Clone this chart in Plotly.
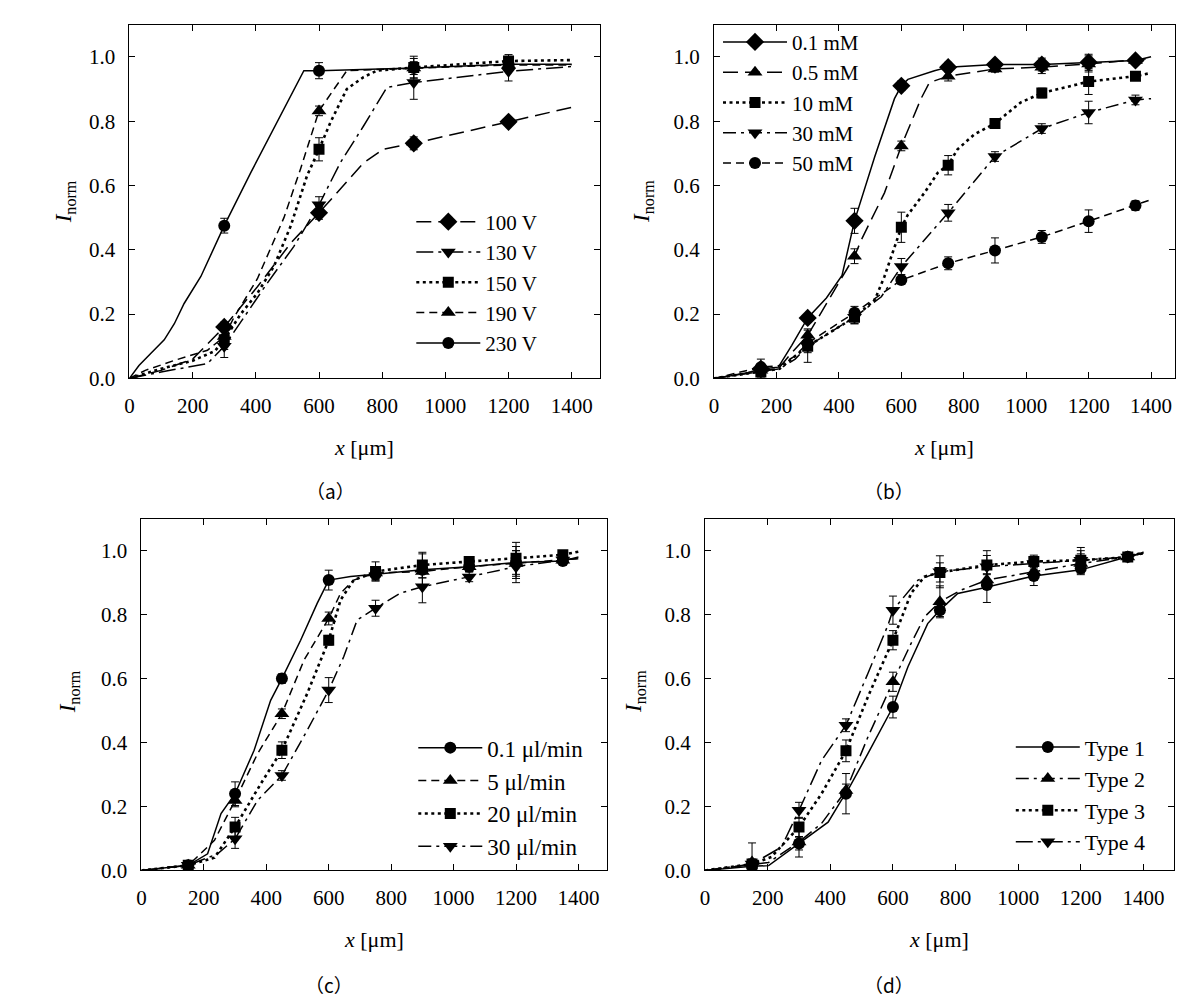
import plotly.graph_objects as go

SERIF = "Liberation Serif"
CJK = "Noto Sans CJK SC"

# ---------------- Panel (a): applied voltage ----------------
A_MX = [300, 600, 900, 1200]
A_NAMES = ["100 V", "130 V", "150 V", "190 V", "230 V"]

A_100_LX = [0, 100, 200, 300, 405, 510, 600, 667, 741, 804, 900, 1200, 1400]
A_100_LY = [0, 0.025, 0.06, 0.16, 0.285, 0.42, 0.515, 0.588, 0.67, 0.713, 0.731, 0.798, 0.843]
A_100_MY = [0.16, 0.515, 0.731, 0.798]
A_100_ME = [0.015, 0.02, 0.02, 0.01]

A_130_LX = [0, 100, 247, 300, 436, 520, 600, 667, 741, 815, 900, 1200, 1400]
A_130_LY = [0, 0.02, 0.046, 0.1, 0.296, 0.41, 0.54, 0.67, 0.785, 0.905, 0.92, 0.955, 0.97]
A_130_MY = [0.1, 0.54, 0.92, 0.955]
A_130_ME = [0.035, 0.025, 0.052, 0.03]

A_150_LX = [0, 100, 200, 270, 300, 352, 405, 457, 510, 562, 600, 636, 688, 741, 783, 900, 1200, 1400]
A_150_LY = [0, 0.03, 0.055, 0.085, 0.12, 0.2, 0.265, 0.348, 0.473, 0.63, 0.7125, 0.796, 0.9, 0.937, 0.957, 0.967, 0.987, 0.99]
A_150_MY = [0.12, 0.7125, 0.967, 0.987]
A_150_ME = [0.03, 0.036, 0.035, 0.02]

A_190_LX = [0, 50, 142, 247, 300, 331, 405, 489, 541, 600, 688, 900, 1200, 1400]
A_190_LY = [0, 0.025, 0.056, 0.0875, 0.13, 0.19, 0.31, 0.5, 0.65, 0.832, 0.957, 0.965, 0.975, 0.975]
A_190_MY = [0.13, 0.832, 0.965, 0.975]
A_190_ME = [0.03, 0.015, 0.03, 0.02]

A_230_LX = [0, 30, 68, 110, 142, 173, 226, 300, 384, 489, 552, 600, 900, 1200, 1400]
A_230_LY = [0, 0.04, 0.078, 0.12, 0.17, 0.233, 0.317, 0.475, 0.64, 0.8375, 0.957, 0.957, 0.965, 0.977, 0.977]
A_230_MY = [0.475, 0.957, 0.965, 0.977]
A_230_ME = [0.023, 0.025, 0.02, 0.015]

# ---------------- Panel (b): concentration ----------------
B_MX = [150, 300, 450, 600, 750, 900, 1050, 1200, 1350]
B_NAMES = ["0.1 mM", "0.5 mM", "10 mM", "30 mM", "50 mM"]

B_01_LX = [0, 100, 150, 206, 249, 300, 360, 410, 450, 515, 578, 600, 621, 706, 750, 900, 1050, 1200, 1350, 1400]
B_01_LY = [0, 0.015, 0.03, 0.035, 0.103, 0.188, 0.25, 0.32, 0.49, 0.69, 0.87, 0.91, 0.93, 0.957, 0.968, 0.976, 0.976, 0.983, 0.989, 1.0]
B_01_MY = [0.03, 0.188, 0.49, 0.91, 0.968, 0.976, 0.976, 0.983, 0.989]
B_01_ME = [0.015, 0.01, 0.039, 0.015, 0.015, 0.01, 0.02, 0.025, 0.01]

B_05_LX = [0, 150, 206, 249, 300, 403, 450, 472, 546, 600, 663, 690, 750, 900, 1050, 1200, 1350, 1400]
B_05_LY = [0, 0.025, 0.03, 0.08, 0.134, 0.3, 0.38, 0.431, 0.577, 0.723, 0.87, 0.92, 0.94, 0.9625, 0.968, 0.978, 0.989, 0.995]
B_05_MY = [0.025, 0.134, 0.38, 0.723, 0.94, 0.9625, 0.968, 0.978, 0.989]
B_05_ME = [0.015, 0.02, 0.023, 0.015, 0.015, 0.01, 0.02, 0.025, 0.01]

B_10_LX = [0, 150, 210, 260, 300, 450, 515, 546, 578, 600, 621, 674, 717, 750, 780, 834, 900, 982, 1050, 1200, 1350, 1400]
B_10_LY = [0, 0.02, 0.03, 0.07, 0.1, 0.19, 0.244, 0.317, 0.41, 0.47, 0.509, 0.577, 0.64, 0.663, 0.7125, 0.759, 0.793, 0.858, 0.8875, 0.923, 0.94, 0.95]
B_10_MY = [0.02, 0.1, 0.19, 0.47, 0.663, 0.793, 0.8875, 0.923, 0.94]
B_10_ME = [0.015, 0.05, 0.02, 0.047, 0.03, 0.01, 0.015, 0.04, 0.01]

B_30_LX = [0, 150, 210, 260, 300, 450, 536, 600, 674, 750, 834, 900, 1050, 1200, 1350, 1400]
B_30_LY = [0, 0.02, 0.03, 0.06, 0.1, 0.19, 0.254, 0.348, 0.431, 0.515, 0.613, 0.69, 0.777, 0.827, 0.866, 0.87]
B_30_MY = [0.02, 0.1, 0.19, 0.348, 0.515, 0.69, 0.777, 0.827, 0.866]
B_30_ME = [0.015, 0.02, 0.02, 0.025, 0.026, 0.015, 0.015, 0.035, 0.015]

B_50_LX = [0, 150, 210, 260, 300, 450, 600, 750, 900, 1050, 1200, 1350, 1400]
B_50_LY = [0, 0.035, 0.04, 0.07, 0.11, 0.204, 0.306, 0.358, 0.398, 0.44, 0.489, 0.5375, 0.556]
B_50_MY = [0.035, 0.11, 0.204, 0.306, 0.358, 0.398, 0.44, 0.489, 0.5375]
B_50_ME = [0.025, 0.02, 0.02, 0.01, 0.02, 0.039, 0.02, 0.035, 0.015]

# ---------------- Panel (c): flow rate ----------------
C_MX = [150, 300, 450, 600, 750, 900, 1050, 1200, 1350]
C_NAMES = ["0.1 μl/min", "5 μl/min", "20 μl/min", "30 μl/min"]

C_01_LX = [0, 150, 212, 255, 300, 361, 414, 450, 510, 563, 600, 670, 750, 900, 1050, 1200, 1350, 1400]
C_01_LY = [0, 0.016, 0.052, 0.178, 0.24, 0.376, 0.532, 0.6, 0.72, 0.835, 0.908, 0.919, 0.926, 0.94, 0.95, 0.963, 0.968, 0.98]
C_01_MY = [0.016, 0.24, 0.6, 0.908, 0.926, 0.94, 0.95, 0.963, 0.968]
C_01_ME = [0.01, 0.037, 0.015, 0.031, 0.02, 0.05, 0.015, 0.05, 0.01]

C_5_LX = [0, 150, 234, 300, 372, 450, 521, 600, 638, 680, 750, 900, 1050, 1200, 1350, 1400]
C_5_LY = [0, 0.016, 0.094, 0.219, 0.365, 0.49, 0.658, 0.788, 0.867, 0.908, 0.93, 0.935, 0.95, 0.96, 0.97, 0.975]
C_5_MY = [0.016, 0.219, 0.49, 0.788, 0.93, 0.935, 0.95, 0.96, 0.97]
C_5_ME = [0.01, 0.02, 0.015, 0.02, 0.02, 0.02, 0.015, 0.04, 0.01]

C_20_LX = [0, 150, 234, 300, 383, 450, 531, 600, 638, 680, 750, 900, 1050, 1200, 1350, 1400]
C_20_LY = [0, 0.016, 0.04, 0.136, 0.272, 0.376, 0.553, 0.72, 0.846, 0.908, 0.935, 0.955, 0.966, 0.976, 0.987, 0.997]
C_20_MY = [0.016, 0.136, 0.376, 0.72, 0.935, 0.955, 0.966, 0.976, 0.987]
C_20_ME = [0.01, 0.03, 0.026, 0.015, 0.03, 0.04, 0.01, 0.05, 0.01]

C_30_LX = [0, 150, 244, 300, 372, 450, 531, 600, 648, 691, 750, 829, 900, 1050, 1200, 1350, 1400]
C_30_LY = [0, 0.016, 0.052, 0.099, 0.219, 0.297, 0.438, 0.564, 0.668, 0.783, 0.82, 0.867, 0.887, 0.918, 0.95, 0.971, 0.976]
C_30_MY = [0.016, 0.099, 0.297, 0.564, 0.82, 0.887, 0.918, 0.95, 0.971]
C_30_ME = [0.01, 0.03, 0.015, 0.039, 0.025, 0.05, 0.015, 0.05, 0.01]

# ---------------- Panel (d): channel type ----------------
D_MX = [150, 300, 450, 600, 750, 900, 1050, 1200, 1350]
D_NAMES = ["Type 1", "Type 2", "Type 3", "Type 4"]

D_1_LX = [0, 150, 203, 300, 393, 435, 450, 520, 600, 648, 711, 750, 807, 881, 1050, 1200, 1350, 1400]
D_1_LY = [0, 0.013, 0.015, 0.084, 0.151, 0.219, 0.24, 0.365, 0.511, 0.637, 0.772, 0.814, 0.866, 0.882, 0.921, 0.94, 0.981, 0.992]
D_1_MY = [0.013, 0.084, 0.24, 0.511, 0.814, 0.893, 0.921, 0.945, 0.981]
D_1_ME = [0.01, 0.02, 0.063, 0.034, 0.02, 0.055, 0.03, 0.02, 0.01]

D_2_LX = [0, 150, 203, 300, 372, 450, 520, 600, 658, 701, 750, 818, 900, 1050, 1200, 1350, 1400]
D_2_LY = [0, 0.02, 0.025, 0.089, 0.147, 0.25, 0.417, 0.59, 0.71, 0.793, 0.84, 0.877, 0.908, 0.934, 0.96, 0.98, 0.99]
D_2_MY = [0.026, 0.089, 0.25, 0.59, 0.84, 0.908, 0.934, 0.96, 0.98]
D_2_ME = [0.06, 0.047, 0.02, 0.03, 0.05, 0.02, 0.015, 0.03, 0.01]

D_3_LX = [0, 150, 212, 300, 372, 450, 520, 600, 658, 701, 750, 900, 1050, 1200, 1350, 1400]
D_3_LY = [0, 0.02, 0.042, 0.136, 0.24, 0.374, 0.543, 0.72, 0.867, 0.919, 0.932, 0.955, 0.966, 0.97, 0.98, 0.995]
D_3_MY = [0.02, 0.136, 0.374, 0.72, 0.932, 0.955, 0.966, 0.97, 0.98]
D_3_ME = [0.015, 0.03, 0.034, 0.03, 0.03, 0.03, 0.02, 0.04, 0.01]

D_4_LX = [0, 150, 244, 300, 372, 450, 520, 584, 600, 680, 750, 900, 1050, 1200, 1350, 1400]
D_4_LY = [0, 0.02, 0.073, 0.188, 0.344, 0.454, 0.616, 0.767, 0.814, 0.908, 0.934, 0.95, 0.96, 0.97, 0.98, 0.995]
D_4_MY = [0.02, 0.188, 0.454, 0.814, 0.934, 0.95, 0.96, 0.97, 0.98]
D_4_ME = [0.015, 0.025, 0.02, 0.044, 0.05, 0.05, 0.02, 0.03, 0.01]

X_TICKS = [0, 200, 400, 600, 800, 1000, 1200, 1400]
Y_TICKS = [0.0, 0.2, 0.4, 0.6, 0.8, 1.0]

# ---------------- styles ----------------
SOLID = dict(dash="solid", width=1.5)
DOT = dict(dash="3px,3.5px", width=2.6)
DASH = dict(dash="8px,5px", width=1.5)
LDASH = dict(dash="15px,7px", width=1.5)
DASHDOT = dict(dash="13px,5px,3px,5px", width=1.5)
LDASHDOT = dict(dash="17px,5px,3px,5px", width=1.5)

fig = go.Figure()


def add_series(axn, legend, name, lx, ly, mx, my, me, line, symbol, msize):
    xa = "x" if axn == 1 else "x%d" % axn
    ya = "y" if axn == 1 else "y%d" % axn
    fig.add_trace(go.Scatter(x=lx, y=ly, mode="lines", xaxis=xa, yaxis=ya,
                             line=dict(color="black", **line), showlegend=False,
                             hoverinfo="skip"))
    fig.add_trace(go.Scatter(x=mx, y=my, mode="markers", xaxis=xa, yaxis=ya,
                             marker=dict(symbol=symbol, size=msize, color="black",
                                         line=dict(width=0)),
                             error_y=dict(type="data", array=me, color="black",
                                          thickness=1, width=4),
                             showlegend=False))
    fig.add_trace(go.Scatter(x=[None], y=[None], mode="lines+markers", name=name,
                             xaxis=xa, yaxis=ya, legend=legend,
                             line=dict(color="black", **line),
                             marker=dict(symbol=symbol, size=msize, color="black",
                                         line=dict(width=0))))


# panel a
add_series(1, "legend", A_NAMES[0], A_100_LX, A_100_LY, A_MX, A_100_MY, A_100_ME, LDASH, "diamond", 14)
add_series(1, "legend", A_NAMES[1], A_130_LX, A_130_LY, A_MX, A_130_MY, A_130_ME, LDASHDOT, "triangle-down", 13)
add_series(1, "legend", A_NAMES[2], A_150_LX, A_150_LY, A_MX, A_150_MY, A_150_ME, DOT, "square", 11)
add_series(1, "legend", A_NAMES[3], A_190_LX, A_190_LY, A_MX, A_190_MY, A_190_ME, DASH, "triangle-up", 13)
add_series(1, "legend", A_NAMES[4], A_230_LX, A_230_LY, A_MX, A_230_MY, A_230_ME, SOLID, "circle", 12)
# panel b
add_series(2, "legend2", B_NAMES[0], B_01_LX, B_01_LY, B_MX, B_01_MY, B_01_ME, SOLID, "diamond", 14)
add_series(2, "legend2", B_NAMES[1], B_05_LX, B_05_LY, B_MX, B_05_MY, B_05_ME, LDASH, "triangle-up", 13)
add_series(2, "legend2", B_NAMES[2], B_10_LX, B_10_LY, B_MX, B_10_MY, B_10_ME, DOT, "square", 11)
add_series(2, "legend2", B_NAMES[3], B_30_LX, B_30_LY, B_MX, B_30_MY, B_30_ME, DASHDOT, "triangle-down", 13)
add_series(2, "legend2", B_NAMES[4], B_50_LX, B_50_LY, B_MX, B_50_MY, B_50_ME, DASH, "circle", 12)
# panel c
add_series(3, "legend3", C_NAMES[0], C_01_LX, C_01_LY, C_MX, C_01_MY, C_01_ME, SOLID, "circle", 12)
add_series(3, "legend3", C_NAMES[1], C_5_LX, C_5_LY, C_MX, C_5_MY, C_5_ME, DASH, "triangle-up", 13)
add_series(3, "legend3", C_NAMES[2], C_20_LX, C_20_LY, C_MX, C_20_MY, C_20_ME, DOT, "square", 11)
add_series(3, "legend3", C_NAMES[3], C_30_LX, C_30_LY, C_MX, C_30_MY, C_30_ME, DASHDOT, "triangle-down", 13)
# panel d
add_series(4, "legend4", D_NAMES[0], D_1_LX, D_1_LY, D_MX, D_1_MY, D_1_ME, SOLID, "circle", 12)
add_series(4, "legend4", D_NAMES[1], D_2_LX, D_2_LY, D_MX, D_2_MY, D_2_ME, DASHDOT, "triangle-up", 13)
add_series(4, "legend4", D_NAMES[2], D_3_LX, D_3_LY, D_MX, D_3_MY, D_3_ME, DOT, "square", 11)
add_series(4, "legend4", D_NAMES[3], D_4_LX, D_4_LY, D_MX, D_4_MY, D_4_ME, LDASHDOT, "triangle-down", 13)

W, H = 1200, 1000


def px(xp):
    return xp / W


def py(yp):
    return 1 - yp / H


# plot-area boxes in page pixels: (left, right, top, bottom)
BOXES = {1: (125, 597, 25, 383), 2: (712, 1175, 25, 383),
         3: (137, 605, 525, 881), 4: (703, 1174, 525, 881)}
XMAX = {1: 1488, 2: 1477, 3: 1493, 4: 1498}

axis_common = dict(showline=True, linecolor="black", linewidth=1, mirror="ticks",
                   ticks="inside", ticklen=6, tickwidth=1, tickcolor="black",
                   showgrid=False, zeroline=False,
                   tickfont=dict(family=SERIF, size=21, color="black"))

layout = {}
for n, (l, r, t, b) in BOXES.items():
    sx = "" if n == 1 else str(n)
    layout["xaxis" + sx] = dict(domain=[px(l), px(r)], anchor="y" + sx,
                                range=[0, XMAX[n]], tickvals=X_TICKS,
                                ticklabelstandoff=8, **axis_common)
    layout["yaxis" + sx] = dict(domain=[py(b), py(t)], anchor="x" + sx,
                                range=[0, 1.1], tickvals=Y_TICKS, tickformat=".1f",
                                ticklabelstandoff=9, **axis_common)

leg_common = dict(xanchor="left", yanchor="top", bgcolor="rgba(0,0,0,0)",
                  borderwidth=0, itemwidth=64, tracegroupgap=0)
layout["legend"] = dict(x=px(408), y=py(204), font=dict(family=SERIF, size=21, color="black"), **leg_common)
layout["legend2"] = dict(x=px(716), y=py(22), font=dict(family=SERIF, size=21, color="black"), **leg_common)
layout["legend3"] = dict(x=px(410), y=py(735), font=dict(family=SERIF, size=23, color="black"), **leg_common)
layout["legend4"] = dict(x=px(1010), y=py(735), font=dict(family=SERIF, size=22, color="black"), **leg_common)

ann = []
XT = {1: (360, 453), 2: (943, 453), 3: (371, 951), 4: (938, 951)}
YT = {1: (60, 204), 2: (640, 204), 3: (64, 700), 4: (632, 700)}
CAP = {1: (327, 496, "（a）"), 2: (888, 496, "（b）"), 3: (325, 996, "（c）"), 4: (888, 996, "（d）")}
for n in BOXES:
    x, y = XT[n]
    ann.append(dict(x=px(x), y=py(y), xref="paper", yref="paper", showarrow=False,
                    text="<i>x</i> [μm]", font=dict(family=SERIF, size=22, color="black"),
                    xanchor="center", yanchor="middle"))
    x, y = YT[n]
    ann.append(dict(x=px(x), y=py(y), xref="paper", yref="paper", showarrow=False,
                    text="<i>I</i><sub>norm</sub>", textangle=-90,
                    font=dict(family=SERIF, size=23, color="black"),
                    xanchor="center", yanchor="middle"))
    x, y, s = CAP[n]
    ann.append(dict(x=px(x), y=py(y), xref="paper", yref="paper", showarrow=False,
                    text=s, font=dict(family=CJK, size=19, color="black"),
                    xanchor="center", yanchor="middle"))

fig.update_layout(width=W, height=H, margin=dict(l=0, r=0, t=0, b=0),
                  paper_bgcolor="white", plot_bgcolor="white",
                  annotations=ann, **layout)

# pin the figure to the window's top-left corner so the page never scrolls
PIN = ("var gd=document.getElementById('{plot_id}');"
       "gd.style.position='fixed';gd.style.left='0px';gd.style.top='0px';"
       "document.body.style.margin='0px';"
       "document.documentElement.style.overflow='hidden';")
fig.write_html("out.html", config={"displayModeBar": False}, post_script=PIN)
